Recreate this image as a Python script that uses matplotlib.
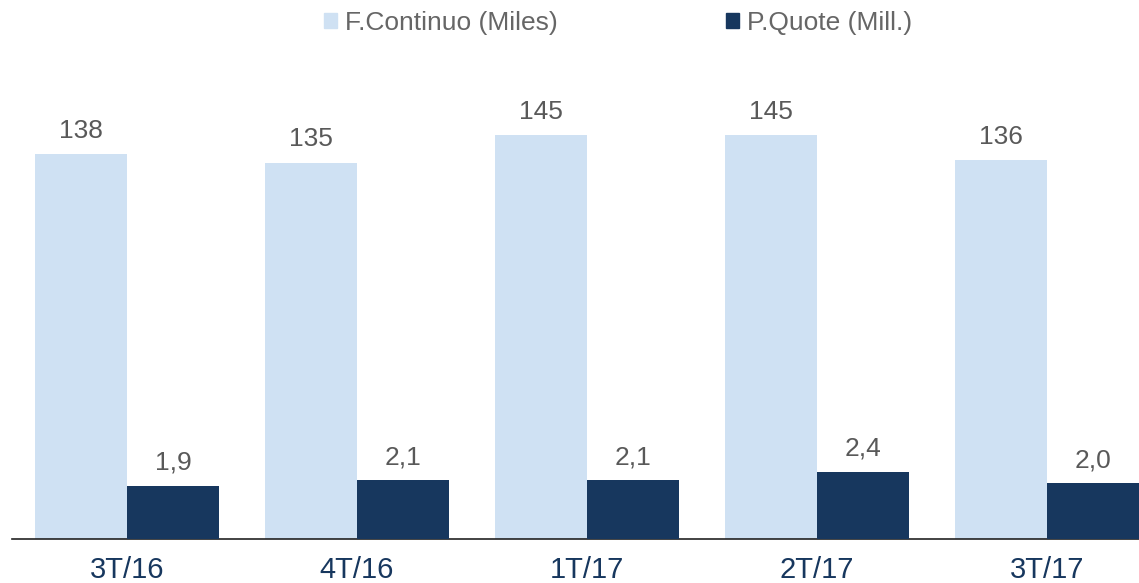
import numpy as np
import matplotlib.pyplot as plt
from matplotlib.patches import Patch

plt.rcParams['font.family'] = ['Liberation Sans', 'DejaVu Sans']

periodos = ["3T/16", "4T/16", "1T/17", "2T/17", "3T/17"]
f_continuo = [138, 135, 145, 145, 136]
p_quote = [1.9, 2.1, 2.1, 2.4, 2.0]

c_claro = "#cfe1f3"
c_oscuro = "#17375e"
c_texto = "#595959"

fig = plt.figure(figsize=(11.39, 5.83), dpi=100)
W, H = 1139, 583
ax = fig.add_axes([12 / W, (H - 539) / H, 1150 / W, 488 / H])
ax2 = ax.twinx()

x = np.arange(len(periodos))
w = 0.4

b1 = ax.bar(x - w / 2, f_continuo, w, color=c_claro)
b2 = ax2.bar(x + w / 2, p_quote, w, color=c_oscuro)

ax.set_ylim(0, 175)
ax2.set_ylim(0, 17.5)
ax.set_xlim(-0.5, len(periodos) - 0.5)

for xi, v in zip(x, f_continuo):
    ax.annotate(f"{v}", (xi - w / 2, v), xytext=(0, 8), textcoords="offset points",
                ha="center", va="bottom", fontsize=19, color=c_texto)
for xi, v in zip(x, p_quote):
    ax2.annotate(f"{v:.1f}".replace(".", ","), (xi + w / 2, v), xytext=(0, 8),
                 textcoords="offset points", ha="center", va="bottom", fontsize=19, color=c_texto)

for a in (ax, ax2):
    for s in ("top", "right", "left"):
        a.spines[s].set_visible(False)
    a.set_yticks([])
ax2.spines["bottom"].set_visible(False)
ax.spines["bottom"].set_color("#222222")
ax.spines["bottom"].set_linewidth(1.2)

ax.set_xticks(x)
ax.set_xticklabels(periodos, fontsize=21, color=c_oscuro)
ax.tick_params(axis="x", length=0, pad=12)

handles = [Patch(color=c_claro), Patch(color=c_oscuro)]
fig.legend(handles, ["F.Continuo (Miles)", "P.Quote (Mill.)"], loc="center",
           bbox_to_anchor=(618 / W, 1 - 23 / H), ncol=2, frameon=False,
           fontsize=19, labelcolor="#666666", handlelength=0.5, handleheight=0.5,
           handletextpad=0.3, columnspacing=6.4)

fig.savefig("out.png", dpi=100)
